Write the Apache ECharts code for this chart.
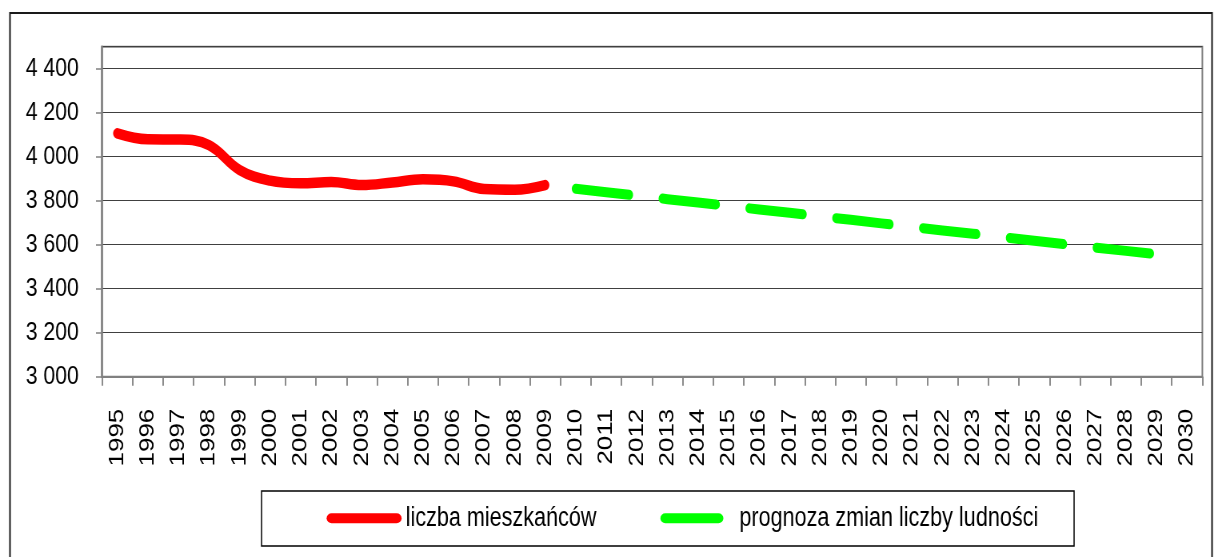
<!DOCTYPE html>
<html>
<head>
<meta charset="utf-8">
<script src="https://cdn.jsdelivr.net/npm/echarts@6/dist/echarts.min.js"></script>
<style>
html,body{margin:0;padding:0;background:#fff;overflow:hidden;width:1218px;height:557px;}
#chart{width:1523px;height:557px;transform:scaleX(0.79974);transform-origin:0 0;}
</style>
</head>
<body>
<div id="chart"></div>
<script>
const years = [];
for (let y = 1995; y <= 2030; y++) years.push(String(y));

const seriesNames = ['liczba mieszkańców', 'prognoza zmian liczby ludności'];

// observed population 1995-2009
const actual = [4106, 4079, 4078, 4053, 3940, 3891, 3879, 3885, 3871, 3883, 3897, 3888, 3853, 3850, 3871];

// forecast 2010-2029
const forecast = [3854, 3838, 3823, 3807, 3792, 3776, 3760, 3745, 3729, 3713, 3697, 3681, 3665, 3650, 3634, 3618, 3602, 3587, 3572, 3557];

const forecastStart = 2010;

const actualData = years.map((y, i) => i < actual.length ? actual[i] : null);
const forecastData = years.map(y => {
  const k = Number(y) - forecastStart;
  return (k >= 0 && k < forecast.length) ? forecast[k] : null;
});

const chart = echarts.init(document.getElementById('chart'), null, {renderer: 'canvas', width: 1523, height: 557});
const fmt = v => String(v).replace(/\B(?=(\d{3})+(?!\d))/g, ' ');
const FONT = '"Liberation Sans", Arial, sans-serif';
const iconRed = 'path://M6.25,0H87.5A6.25,5,0,0,1,87.5,10H6.25A6.25,5,0,0,1,6.25,0Z';
const iconGreen = 'path://M0,0M94,10M6.25,0H72.75A6.25,5,0,0,1,72.75,10H6.25A6.25,5,0,0,1,6.25,0Z';

chart.setOption({
  animation: false,
  backgroundColor: '#ffffff',
  textStyle: {fontFamily: FONT},
  graphic: [
    {type: 'rect', shape: {x: 12.5, y: 13, width: 1503, height: 580}, style: {fill: 'none', stroke: '#1a1a1a', lineWidth: 2}, silent: true, z: -1},
    {type: 'rect', shape: {x: 327, y: 491, width: 1016, height: 55}, style: {fill: 'none', stroke: '#000', lineWidth: 1.5}, silent: true}
  ],
  grid: {left: 127.5, right: 19.6, top: 46.7, bottom: 180.3, show: true, borderColor: '#808080', borderWidth: 2, containLabel: false},
  legend: {
    left: 408.4, top: 503.3, padding: 0,
    itemWidth: 93.75, itemHeight: 10, itemGap: 80,
    textStyle: {fontFamily: FONT, fontSize: 27, color: '#000', lineHeight: 30},
    data: [
      {name: seriesNames[0], icon: iconRed},
      {name: seriesNames[1], icon: iconGreen}
    ]
  },
  xAxis: {
    type: 'category', data: years, boundaryGap: true,
    axisLine: {lineStyle: {color: '#808080', width: 2}},
    axisTick: {show: true, length: 9, interval: 0, lineStyle: {color: '#808080', width: 1.8}},
    axisLabel: {interval: 0, rotate: 90, margin: 32, fontSize: 26, color: '#000', fontFamily: FONT},
    splitLine: {show: false}
  },
  yAxis: {
    type: 'value', min: 3000, max: 4500, interval: 200,
    axisLine: {show: true, lineStyle: {color: '#808080', width: 2.5}},
    axisTick: {show: true, length: 7.5, lineStyle: {color: '#808080', width: 1.5}},
    axisLabel: {formatter: fmt, showMaxLabel: false, margin: 29, fontSize: 26.5, color: '#000', fontFamily: FONT},
    splitLine: {show: true, lineStyle: {color: '#404040', width: 1.2}}
  },
  series: [
    {
      name: seriesNames[0], type: 'line', data: actualData, smooth: 0.4,
      showSymbol: false, symbol: 'none',
      itemStyle: {color: '#ff0000'},
      lineStyle: {color: '#ff0000', width: 10.5, cap: 'round', join: 'round'},
      z: 3
    },
    {
      name: seriesNames[1], type: 'line', data: forecastData, smooth: false,
      showSymbol: false, symbol: 'none',
      itemStyle: {color: '#00ff00'},
      lineStyle: {color: '#00ff00', width: 10, type: [67, 42], cap: 'round', join: 'round'},
      z: 3
    }
  ]
});
</script>
</body>
</html>
